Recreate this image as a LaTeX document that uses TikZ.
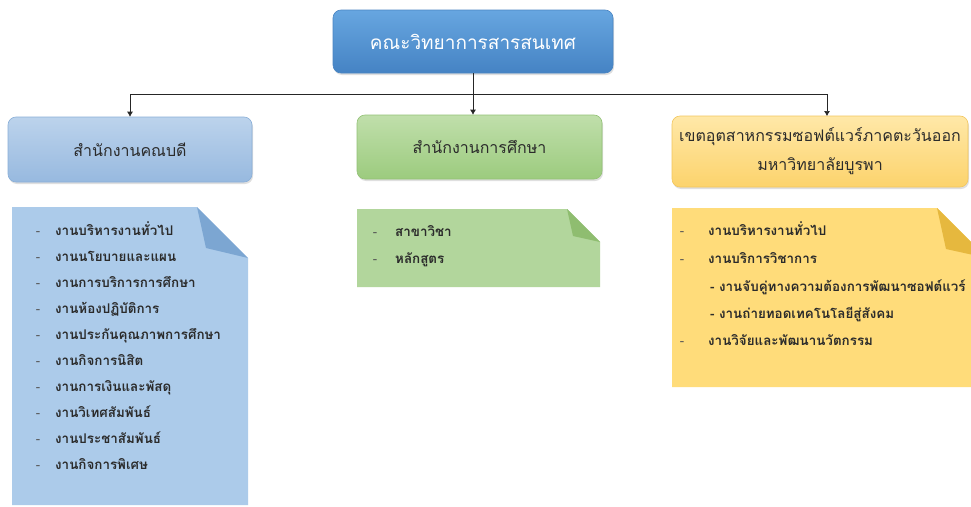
\documentclass[tikz,border=0pt]{standalone}
\usepackage{fontspec}
\newfontfamily\thaifont[Script=Thai]{Loma}
\usetikzlibrary{arrows.meta,shadows}
\definecolor{topA}{HTML}{67A6E0}
\definecolor{topB}{HTML}{4583C4}
\definecolor{topD}{HTML}{4A85C2}
\definecolor{blA}{HTML}{BCD3EC}
\definecolor{blB}{HTML}{97B9DF}
\definecolor{blD}{HTML}{8AAFD8}
\definecolor{grA}{HTML}{C0DFAB}
\definecolor{grB}{HTML}{9CCB7E}
\definecolor{grD}{HTML}{93C176}
\definecolor{yeA}{HTML}{FFE8A8}
\definecolor{yeB}{HTML}{FCD36C}
\definecolor{yeD}{HTML}{F2C65E}
\definecolor{blL}{HTML}{ACCBEA}
\definecolor{blF}{HTML}{7CA6D2}
\definecolor{grL}{HTML}{B2D69C}
\definecolor{grF}{HTML}{8FBD70}
\definecolor{yeL}{HTML}{FFDC7A}
\definecolor{yeF}{HTML}{E6B83E}
\definecolor{txt}{HTML}{2B2B2B}
\begin{document}
\begin{tikzpicture}[x=1pt,y=-1pt,
  font=\thaifont,
  hbox/.style={rounded corners=8pt, draw, line width=0.6pt, align=center,
    text=txt, font=\thaifont\fontsize{16}{29}\selectfont,
    drop shadow={opacity=0.25, shadow xshift=1pt, shadow yshift=-2pt}},
  item/.style={anchor=west, inner sep=0pt, text height=10pt, text depth=3pt,
    text=txt, font=\thaifont\bfseries\fontsize{13.4}{15}\selectfont},
  dashmark/.style={item, anchor=center, font=\thaifont\fontsize{13}{15}\selectfont, text=txt!80},
  conn/.style={draw=black!85, line width=0.7pt},
  arr/.style={conn, -{Latex[length=5pt,width=6pt]}}
]
\clip (0,0) rectangle (971,506);
\fill[white] (0,0) rectangle (971,506);

% header boxes
\node[hbox, top color=topA, bottom color=topB, draw=topD, minimum width=280pt,
  minimum height=63pt, text=white, font=\thaifont\fontsize{19}{22}\selectfont]
  (top) at (473,41.5) {คณะวิทยาการสารสนเทศ};
\node[hbox, top color=blA, bottom color=blB, draw=blD, minimum width=244pt,
  minimum height=65pt] (l) at (130,149.5) {สำนักงานคณบดี};
\node[hbox, top color=grA, bottom color=grB, draw=grD, minimum width=245pt,
  minimum height=64pt] (m) at (479.5,147) {สำนักงานการศึกษา};
\node[hbox, top color=yeA, bottom color=yeB, draw=yeD, minimum width=296pt,
  minimum height=71pt] (r) at (820,151.5) {เขตอุตสาหกรรมซอฟต์แวร์ภาคตะวันออก\\มหาวิทยาลัยบูรพา};

% connectors
\coordinate (hl) at (130,94);
\coordinate (hr) at (827,94);
\coordinate (rt) at (827,116);
\draw[conn] (hl) -- (hr);
\draw[arr] (hl) -- (l.north);
\draw[arr] (hr) -- (rt);
\draw[arr] (top.south) -- (top.south |- m.north);

% list boxes
\fill[blL] (12,207) -- (197,207) -- (248,258) -- (248,505) -- (12,505) -- cycle;
\fill[blF] (197,207) -- (206,248) -- (248,258) -- cycle;
\fill[grL] (357,209) -- (567,209) -- (600,242) -- (600,287) -- (357,287) -- cycle;
\fill[grF] (567,209) -- (573,236) -- (600,242) -- cycle;
\fill[yeL] (672,208) -- (937,208) -- (987,258) -- (987,387) -- (672,387) -- cycle;
\fill[yeF] (937,208) -- (946,249) -- (987,258) -- cycle;

% left list
\foreach \t [count=\i from 0] in {งานบริหารงานทั่วไป, งานนโยบายและแผน,
  งานการบริการการศึกษา, งานห้องปฏิบัติการ, งานประกันคุณภาพการศึกษา,
  งานกิจการนิสิต, งานการเงินและพัสดุ, งานวิเทศสัมพันธ์, งานประชาสัมพันธ์,
  งานกิจการพิเศษ}{
  \node[dashmark] (ld\i) at (38,232+26*\i) {-};
  \node[item] (li\i) at (55,232+26*\i) {\t};
}

% middle list
\node[dashmark] (md0) at (375,233) {-};
\node[item] (mi0) at (395,233) {สาขาวิชา};
\node[dashmark] (md1) at (375,260) {-};
\node[item] (mi1) at (395,260) {หลักสูตร};

% right list
\node[dashmark] (rd0) at (682,232) {-};
\node[item] (ri0) at (708,232) {งานบริหารงานทั่วไป};
\node[dashmark] (rd1) at (682,260) {-};
\node[item] (ri1) at (708,260) {งานบริการวิชาการ};
\node[item] (ri2) at (710,288) {- งานจับคู่ทางความต้องการพัฒนาซอฟต์แวร์};
\node[item] (ri3) at (710,315) {- งานถ่ายทอดเทคโนโลยีสู่สังคม};
\node[dashmark] (rd4) at (682,342) {-};
\node[item] (ri4) at (708,342) {งานวิจัยและพัฒนานวัตกรรม};
\end{tikzpicture}
\end{document}
